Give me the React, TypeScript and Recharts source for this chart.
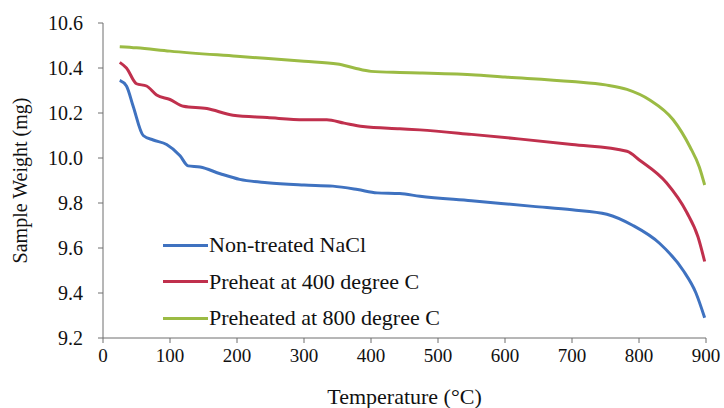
import { LineChart, Line, XAxis, YAxis } from "recharts";

const nonTreatedTemp = [25, 35, 45, 60, 75, 95, 115, 127, 145, 175, 204, 245, 300, 343, 380, 409, 443, 473, 550, 642, 700, 752, 791, 831, 866, 885, 898];
const nonTreatedWeight = [10.345, 10.32, 10.23, 10.1, 10.08, 10.06, 10.01, 9.965, 9.96, 9.93, 9.905, 9.89, 9.88, 9.875, 9.86, 9.845, 9.842, 9.83, 9.81, 9.785, 9.77, 9.75, 9.7, 9.62, 9.5, 9.4, 9.29];

const preheat400Temp = [25, 35, 50, 65, 80, 100, 120, 155, 194, 245, 300, 334, 360, 388, 443, 473, 550, 620, 700, 782, 801, 841, 871, 888, 898];
const preheat400Weight = [10.425, 10.4, 10.33, 10.32, 10.28, 10.26, 10.23, 10.22, 10.19, 10.18, 10.17, 10.17, 10.155, 10.14, 10.13, 10.125, 10.105, 10.085, 10.06, 10.03, 9.99, 9.89, 9.76, 9.65, 9.54];

const preheat800Temp = [25, 50, 100, 200, 300, 350, 375, 400, 443, 473, 550, 600, 700, 750, 782, 816, 851, 876, 890, 898];
const preheat800Weight = [10.495, 10.49, 10.475, 10.452, 10.43, 10.418, 10.4, 10.385, 10.38, 10.378, 10.37, 10.36, 10.34, 10.325, 10.305, 10.258, 10.17, 10.05, 9.96, 9.88];

const xTicks = [0, 100, 200, 300, 400, 500, 600, 700, 800, 900];
const yTicks = [9.2, 9.4, 9.6, 9.8, 10.0, 10.2, 10.4, 10.6];

const seriesNames = ["Non-treated NaCl", "Preheat at 400 degree C", "Preheated at 800 degree C"];
const seriesColors = ["#3f72c0", "#c0304d", "#9bbb44"];

const toPoints = (temps: number[], weights: number[]) =>
  temps.map((t, i) => ({ temp: t, weight: weights[i] }));

const series = [
  toPoints(nonTreatedTemp, nonTreatedWeight),
  toPoints(preheat400Temp, preheat400Weight),
  toPoints(preheat800Temp, preheat800Weight),
];

const font = "'Liberation Serif', 'DejaVu Serif', 'Times New Roman', serif";
const axisColor = "#6e6e6e";

// legend sits inside the plot, lower left
const LegendBox = () => (
  <div style={{ position: "absolute", left: 163, top: 227, fontFamily: font, fontSize: 22, color: "#111" }}>
    {seriesNames.map((name, i) => (
      <div key={name} style={{ display: "flex", alignItems: "center", height: 36.5 }}>
        <div style={{ width: 45, height: 3, background: seriesColors[i], marginRight: 1 }} />
        <span>{name}</span>
      </div>
    ))}
  </div>
);

export default function App() {
  return (
    <div style={{ position: "absolute", left: 0, top: 0, width: 724, height: 408, background: "#fff", fontFamily: font }}>
      <LineChart width={724} height={408} margin={{ top: 23, right: 18, left: 0, bottom: 0 }} style={{ fontFamily: font }}>
        <XAxis
          type="number"
          dataKey="temp"
          domain={[0, 900]}
          ticks={xTicks}
          allowDuplicatedCategory={false}
          height={70}
          stroke={axisColor}
          tickSize={5}
          tickMargin={6}
          tick={{ fill: "#111", fontSize: 19, fontFamily: font }}
          label={{ value: "Temperature (°C)", position: "insideBottom", offset: 4, fill: "#111", fontSize: 22, fontFamily: font }}
        />
        <YAxis
          type="number"
          dataKey="weight"
          domain={[9.2, 10.6]}
          ticks={yTicks}
          width={103}
          stroke={axisColor}
          tickSize={5}
          tickMargin={15}
          tickFormatter={(v: number) => v.toFixed(1)}
          tick={{ fill: "#111", fontSize: 20, fontFamily: font }}
          label={{ value: "Sample Weight (mg)", angle: -90, position: "insideLeft", offset: 20, textAnchor: "middle", fill: "#111", fontSize: 20, fontFamily: font }}
        />
        {series.map((data, i) => (
          <Line
            key={seriesNames[i]}
            data={data}
            dataKey="weight"
            name={seriesNames[i]}
            type="monotone"
            stroke={seriesColors[i]}
            strokeWidth={3}
            dot={false}
            isAnimationActive={false}
          />
        ))}
      </LineChart>
      <LegendBox />
    </div>
  );
}
